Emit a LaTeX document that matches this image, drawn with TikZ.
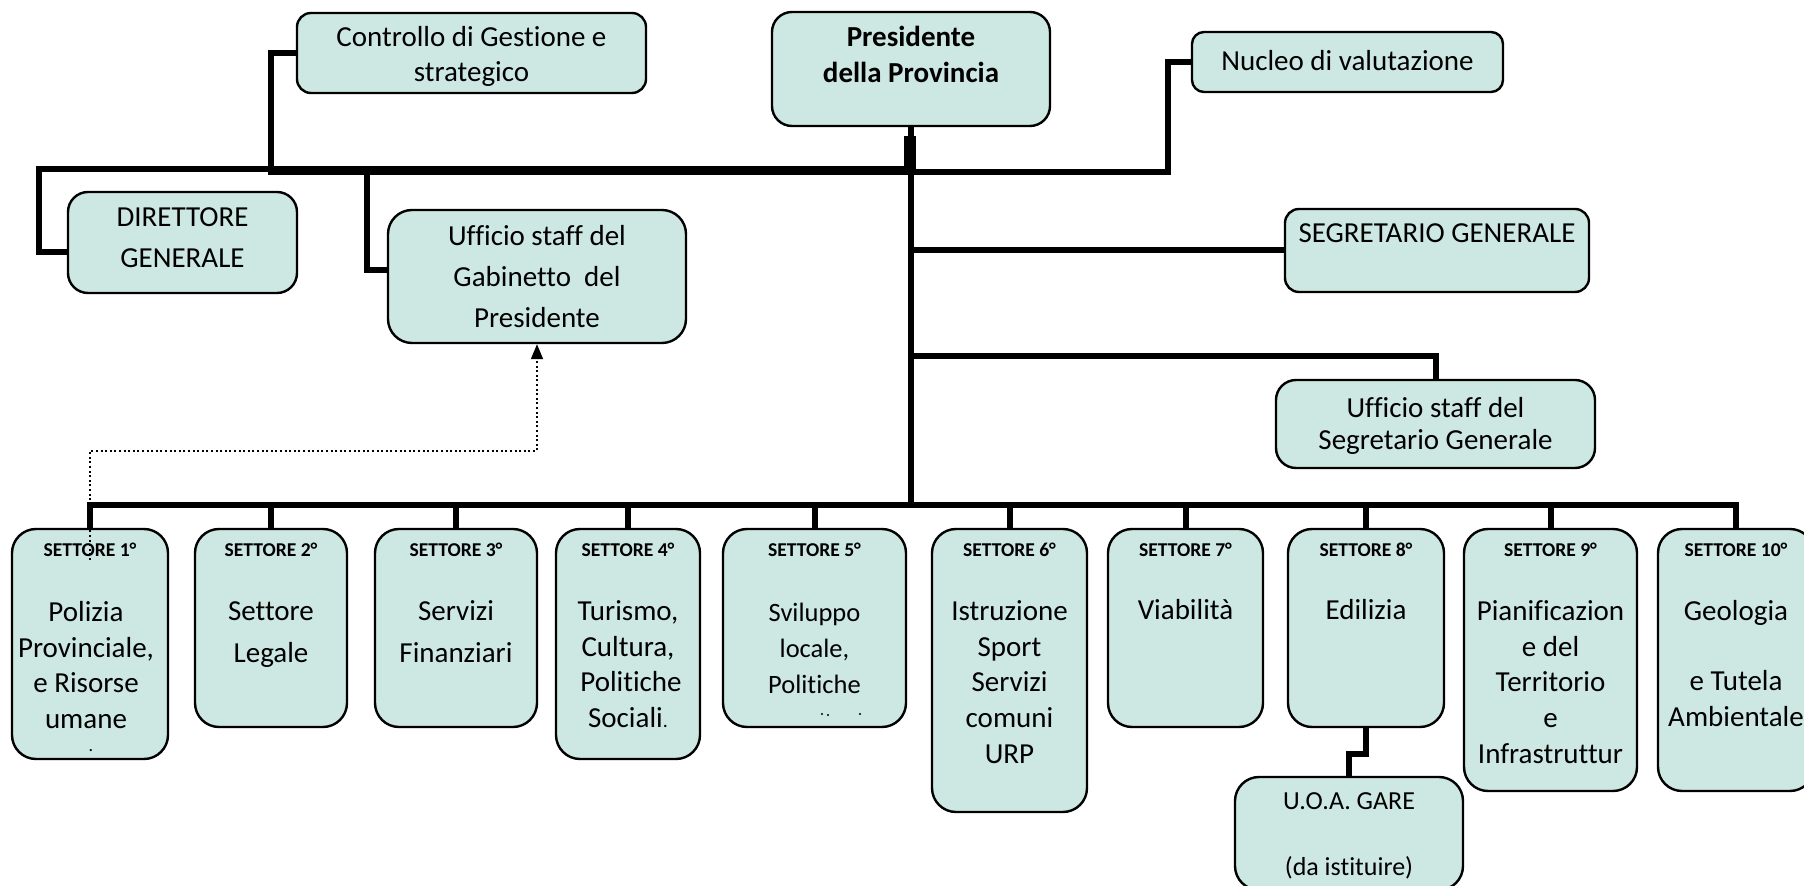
\documentclass[tikz,border=0pt]{standalone}
\usepackage{fontspec}
\setmainfont{Carlito}[Ligatures={NoCommon,NoDiscretionary,NoContextual}]
\usetikzlibrary{arrows.meta,calc}
\definecolor{boxfill}{RGB}{205,232,226}
\begin{document}
\begin{tikzpicture}[x=0.5pt,y=-0.5pt,
  bx/.style n args={3}{draw=black, line width=1.2pt, fill=boxfill, rectangle,
     inner sep=0pt, minimum width=#1*0.5pt, minimum height=#2*0.5pt, rounded corners=#3},
  tone/.style={font=\fontsize{14.5}{17.5}\selectfont, anchor=base, inner sep=0pt},
  ml/.style n args={2}{font=\fontsize{#1}{#2}\selectfont, align=center, inner sep=0pt,
     anchor=north, yshift=0.7*#2pt},
  ttl/.style={font=\bfseries\fontsize{9.8}{12}\selectfont, anchor=base, inner sep=0pt},
  conn/.style={line width=3pt, line join=miter},
  dotline/.style={line width=0.9pt, dash pattern=on 1pt off 1.3pt}
]
\useasboundingbox (0,0) rectangle (1804,886);

% ---------- upper boxes ----------
\node[bx={349}{80}{7pt}]   (ctrl) at (471.5,53) {};
\node[bx={278}{114}{10pt}] (pres) at (911,69) {};
\node[bx={311}{60}{6pt}]   (nucl) at (1347.5,62) {};
\node[bx={229}{101}{10pt}] (dir)  at (182.5,242.5) {};
\node[bx={298}{133}{12pt}] (gab)  at (537,276.5) {};
\node[bx={304}{83}{7pt}]   (sg)   at (1437,250.5) {};
\node[bx={319}{88}{10pt}]  (usg)  at (1435.5,424) {};

% ---------- sector boxes ----------
\node[bx={156}{230}{12pt}] (s1)  at (90,644) {};
\node[bx={152}{198}{12pt}] (s2)  at (271,628) {};
\node[bx={162}{198}{12pt}] (s3)  at (456,628) {};
\node[bx={144}{230}{12pt}] (s4)  at (628,644) {};
\node[bx={183}{198}{12pt}] (s5)  at (814.5,628) {};
\node[bx={155}{283}{12pt}] (s6)  at (1009.5,670.5) {};
\node[bx={155}{198}{12pt}] (s7)  at (1185.5,628) {};
\node[bx={156}{198}{12pt}] (s8)  at (1366,628) {};
\node[bx={173}{262}{12pt}] (s9)  at (1550.5,660) {};
\node[bx={156}{262}{12pt}] (s10) at (1736,660) {};
\node[bx={228}{113}{12pt}] (uoa) at (1349,833.5) {};

% ---------- texts ----------
\node[ml={14.5}{17.5}] (ctrlt) at (471.5,46) {\strut Controllo di Gestione e\\\strut strategico};
\node[ml={14.5}{18}, font=\bfseries\fontsize{14.5}{18}\selectfont] (prest) at (911,46) {\strut Presidente\\\strut della Provincia};
\node[tone] (nuclt) at (1347.5,71) {Nucleo di valutazione};
\node[ml={14.5}{20.5}] (dirt) at (182.5,226) {\strut DIRETTORE\\\strut GENERALE};
\node[ml={14.5}{20.5}] (gabt) at (537,245) {\strut Ufficio staff del\\\strut Gabinetto\ \ del\\\strut Presidente};
\node[tone] (sgt) at (1437,243) {SEGRETARIO GENERALE};
\node[ml={14.5}{16}] (usgt) at (1435.5,417) {\strut Ufficio staff del\\\strut Segretario Generale};

\node[ttl] (s1h)  at (90,557)     {SETTORE 1°};
\node[ttl] (s2h)  at (271,557)    {SETTORE 2°};
\node[ttl] (s3h)  at (456,557)    {SETTORE 3°};
\node[ttl] (s4h)  at (628,557)    {SETTORE 4°};
\node[ttl] (s5h)  at (814.5,557)  {SETTORE 5°};
\node[ttl] (s6h)  at (1009.5,557) {SETTORE 6°};
\node[ttl] (s7h)  at (1185.5,557) {SETTORE 7°};
\node[ttl] (s8h)  at (1366,557)   {SETTORE 8°};
\node[ttl] (s9h)  at (1550.5,557) {SETTORE 9°};
\node[ttl] (s10h) at (1736,557)   {SETTORE 10°};

\node[ml={14.5}{17.85}] (s1t) at (86,621) {\strut Polizia\\\strut Provinciale,\\\strut e Risorse\\\strut umane};
\node[font=\fontsize{9}{10}\selectfont, anchor=base, inner sep=0pt] (s1d) at (91,752) {.};
\node[ml={14.5}{21}] (s2t) at (271,620) {\strut Settore\\\strut Legale};
\node[ml={14.5}{21}] (s3t) at (456,620) {\strut Servizi\\\strut Finanziari};
\node[ml={14.5}{17.85}] (s4t) at (628,620) {\strut Turismo,\\\strut Cultura,\\\strut\hspace{3pt}Politiche\\\strut Sociali{\fontsize{10}{12}\selectfont.}};
\node[ml={13.25}{18}] (s5t) at (814.5,621) {\strut Sviluppo\\\strut locale,\\\strut Politiche};
\fill (822,714) circle (1.1) (828,715) circle (1.1) (860,714) circle (1.1);
\node[ml={14.5}{17.85}] (s6t) at (1009.5,620) {\strut Istruzione\\\strut Sport\\\strut Servizi\\\strut comuni\\\strut URP};
\node[tone] (s7t) at (1185.5,620) {Viabilità};
\node[tone] (s8t) at (1366,620) {Edilizia};
\node[ml={14.5}{17.85}] (s9t) at (1550.5,620) {\strut Pianificazion\\\strut e del\\\strut Territorio\\\strut e\\\strut Infrastruttur};
\node[ml={14.5}{17.6}] (s10t) at (1736,620) {\strut Geologia\\\strut\\\strut e Tutela\\\strut Ambientale};
\node[ml={13}{16.5}] (uoat) at (1349,809) {\strut U.O.A. GARE\\\strut\\\strut (da istituire)};

% ---------- connectors ----------
\coordinate (busL) at (89,505);
\coordinate (dirC) at (38.5,169);
\coordinate (ctrlC) at (270.5,172.5);
\coordinate (gabC) at (367,172.5);
\coordinate (nuclC) at (1167.5,172.5);
\coordinate (usgY) at (0,356);
\coordinate (dotS) at (90,560);
\coordinate (dotY) at (0,451);

% trunk
\draw[conn] (pres.south) -- (pres.south |- busL);
\draw[line width=6pt] ($(pres.south)+(-1,9)$) -- ($(pres.south)+(-1,44)$);
% left branches
\draw[conn] ($(dir.west)+(0,9.5)$) -| (dirC) -- (pres.south |- dirC);
\draw[conn] (ctrl.west) -| (ctrlC) -- (pres.south |- ctrlC);
\draw[conn] ($(gab.west)+(0,-6)$) -| (gabC);
% right branches
\draw[conn] (nucl.west) -| (nuclC) -- (pres.south |- nuclC);
\draw[conn] (sg.west) -- (sg.west -| pres.south);
\draw[conn] (usg.north) |- (pres.south |- usgY);
% bus and drops
\draw[conn] (s1.north) -- (s1.north |- busL) -- (s10.north |- busL) -- (s10.north);
\foreach \s in {s2,s3,s4,s5,s6,s7,s8,s9}
  \draw[conn] (\s.north) -- (\s.north |- busL);
% settore 8 to U.O.A.
\draw[conn] (s8.south) -- ++(0,26) -| (uoa.north);
% dotted arrow
\draw[dotline, -{Triangle[length=7.5pt,width=6pt]}] (dotS) -- (dotS |- dotY) -- (gab.south |- dotY) -- (gab.south);
\end{tikzpicture}
\end{document}
